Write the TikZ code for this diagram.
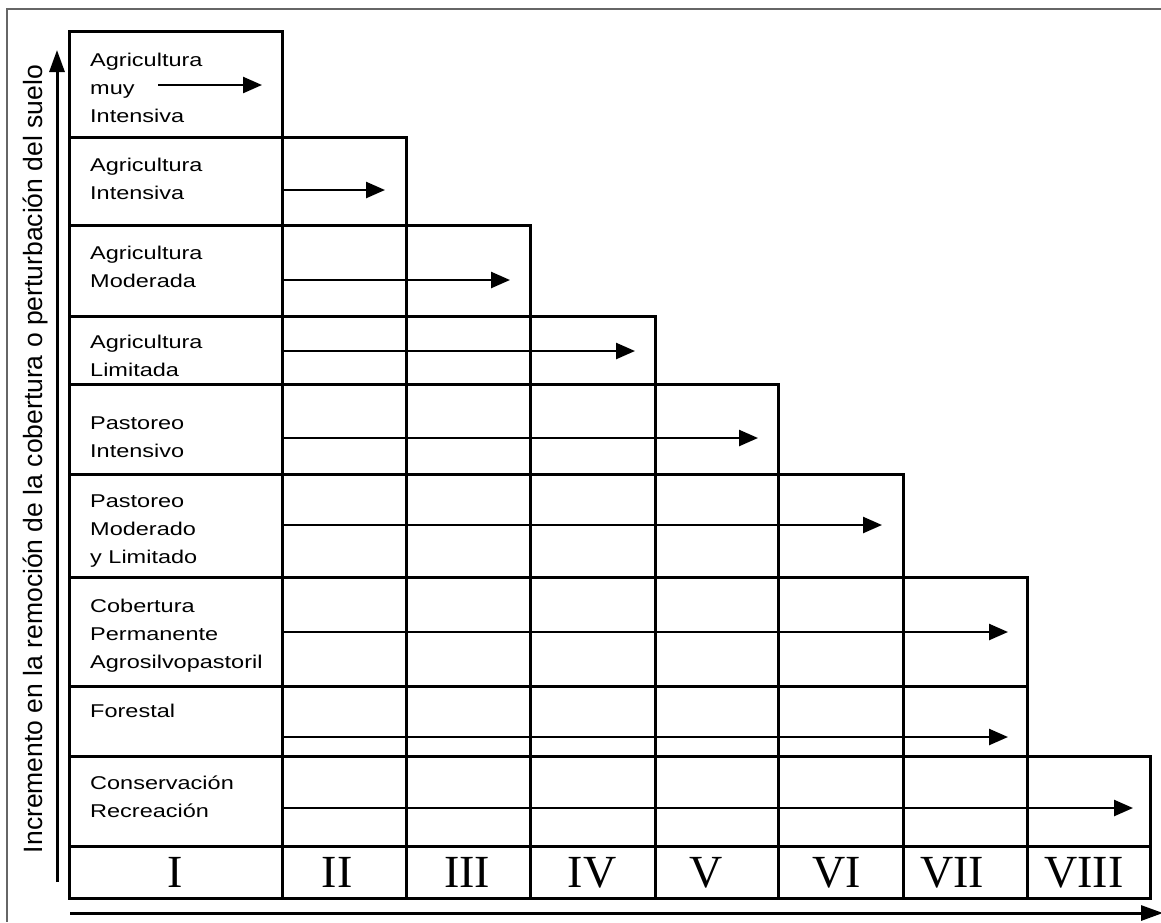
\documentclass[tikz,border=0pt]{standalone}
\usepackage{fontspec}
\setmainfont{Liberation Sans}
\newfontfamily\boxfont[FakeStretch=1.27]{Liberation Sans}
\newfontfamily\numfont{Liberation Serif}
\usetikzlibrary{arrows.meta}
\begin{document}
\begin{tikzpicture}[x=1pt,y=-1pt,
  frame/.style={draw=black!60,line width=1.5pt},
  gridline/.style={line width=3pt},
  flow/.style={line width=2.5pt,-{Triangle[length=19pt,width=16pt]}},
  axis/.style={line width=3pt,-{Triangle[length=22pt,width=15pt]}},
  usetext/.style={font=\boxfont\fontsize{18.5}{28}\selectfont,align=left,anchor=base west,inner sep=0pt},
  numeral/.style={font=\numfont\fontsize{46}{46}\selectfont,anchor=base,inner sep=0pt}]
\useasboundingbox (0,0) rectangle (1161,922);
% outer frame
\draw[frame] (1161,9) -- (7,9) -- (7,922);
% staircase grid
\draw[gridline] (69,31) rectangle (282,898);
\draw[gridline] (69,137) rectangle (406,898);
\draw[gridline] (69,225) rectangle (530,898);
\draw[gridline] (69,316) rectangle (655,898);
\draw[gridline] (69,384) rectangle (778,898);
\draw[gridline] (69,474) rectangle (903,898);
\draw[gridline] (69,577) rectangle (1027,898);
\draw[gridline] (69,686) rectangle (1027,898);
\draw[gridline] (69,756) rectangle (1150,898);
\draw[gridline] (69,846) -- (1150,846);
% row labels (anchored at the baseline of the last line)
\node[usetext] (r1) at (90,122) {Agricultura\\muy\\Intensiva};
\node[usetext] (r2) at (90,199) {Agricultura\\Intensiva};
\node[usetext] (r3) at (90,287) {Agricultura\\Moderada};
\node[usetext] (r4) at (90,376) {Agricultura\\Limitada};
\node[usetext] (r5) at (90,457) {Pastoreo\\Intensivo};
\node[usetext] (r6) at (90,563) {Pastoreo\\Moderado\\y Limitado};
\node[usetext] (r7) at (90,668) {Cobertura\\Permanente\\Agrosilvopastoril};
\node[usetext] (r8) at (90,717) {Forestal};
\node[usetext] (r9) at (90,817) {Conservación\\Recreación};
% arrows
\coordinate (a1s) at (158,85);  \coordinate (a1e) at (262,85);
\coordinate (a2s) at (282,190); \coordinate (a2e) at (385,190);
\coordinate (a3s) at (282,280); \coordinate (a3e) at (510,280);
\coordinate (a4s) at (282,351); \coordinate (a4e) at (635,351);
\coordinate (a5s) at (282,438); \coordinate (a5e) at (758,438);
\coordinate (a6s) at (282,525); \coordinate (a6e) at (882,525);
\coordinate (a7s) at (282,632); \coordinate (a7e) at (1008,632);
\coordinate (a8s) at (282,737); \coordinate (a8e) at (1008,737);
\coordinate (a9s) at (282,808); \coordinate (a9e) at (1133,808);
\foreach \i in {1,...,9} {\draw[flow] (a\i s) -- (a\i e);}
% class numerals
\node[numeral] (n1) at (175,887) {I};
\node[numeral] (n2) at (337,887) {II};
\node[numeral] (n3) at (467,887) {III};
\node[numeral] (n4) at (592,887) {IV};
\node[numeral] (n5) at (706,887) {V};
\node[numeral] (n6) at (837,887) {VI};
\node[numeral] (n7) at (952,887) {VII};
\node[numeral] (n8) at (1084,887) {VIII};
% axes
\coordinate (ya) at (57,882); \coordinate (yb) at (57,50);
\draw[axis] (ya) -- (yb);
\coordinate (xa) at (70,913); \coordinate (xb) at (1163,913);
\draw[axis] (xa) -- (xb);
\node[font=\fontsize{26.5}{30}\selectfont,rotate=90,anchor=base,inner sep=0pt] (ylab) at (42,459)
  {Incremento en la remoción de la cobertura o perturbación del suelo};
\end{tikzpicture}
\end{document}
